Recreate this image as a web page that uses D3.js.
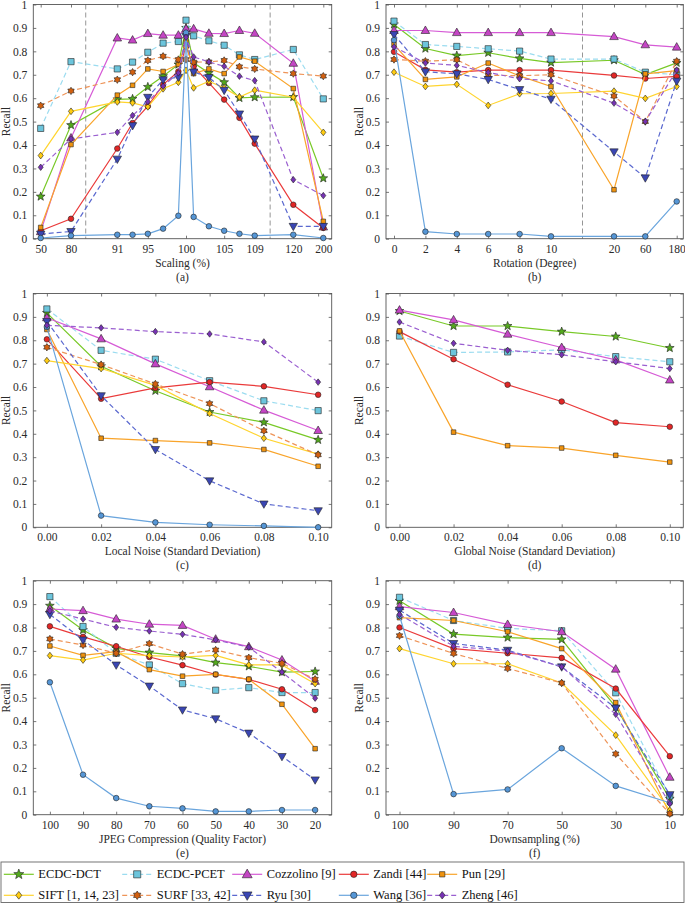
<!DOCTYPE html>
<html><head><meta charset="utf-8">
<script src="https://cdn.jsdelivr.net/npm/d3@7"></script>
<style>
body{margin:0;background:#fff} svg{display:block}
svg text{font-family:"Liberation Serif","DejaVu Serif",serif !important;}
</style>
</head><body>
<svg id="chart" width="685" height="903"></svg>
<script>
// ---------------- DATA ----------------
const seriesNames = ["ECDC-DCT","ECDC-PCET","Cozzolino [9]","Zandi [44]","Pun [29]","SIFT [1, 14, 23]","SURF [33, 42]","Ryu [30]","Wang [36]","Zheng [46]"];

// (a) Scaling
const scalingX = [50,80,91,93,95,97,99,100,101,103,105,107,109,120,200];
const scalingTicks = [50,80,91,95,100,105,109,120,200];
const scalingValues = [
  [0.18,0.485,0.595,0.597,0.648,0.694,0.744,0.90,0.751,0.708,0.668,0.601,0.604,0.605,0.258],
  [0.471,0.756,0.725,0.754,0.796,0.835,0.842,0.933,0.866,0.845,0.826,0.785,0.765,0.808,0.597],
  [0.03,0.43,0.857,0.848,0.876,0.869,0.869,0.896,0.896,0.877,0.876,0.889,0.877,0.749,0.05],
  [0.034,0.085,0.385,0.494,0.566,0.658,0.714,0.82,0.736,0.665,0.594,0.516,0.406,0.145,0.046],
  [0.048,0.402,0.613,0.655,0.725,0.714,0.744,0.84,0.705,0.725,0.705,0.776,0.758,0.641,0.074],
  [0.355,0.544,0.584,0.58,0.563,0.64,0.668,0.719,0.644,0.672,0.644,0.605,0.634,0.604,0.454],
  [0.568,0.631,0.679,0.711,0.761,0.779,0.765,0.765,0.754,0.755,0.761,0.734,0.725,0.705,0.694],
  [0.02,0.031,0.34,0.483,0.604,0.679,0.69,0.865,0.712,0.689,0.634,0.533,0.426,0.053,0.053],
  [0.003,0.013,0.017,0.017,0.021,0.043,0.098,0.88,0.093,0.053,0.034,0.021,0.013,0.017,0.003],
  [0.305,0.426,0.454,0.526,0.585,0.651,0.708,0.86,0.776,0.755,0.736,0.694,0.675,0.252,0.184]
];

// (b) Rotation
const rotationX = [0,2,4,6,8,10,20,60,180];
const rotationValues = [
  [0.915,0.812,0.782,0.794,0.77,0.752,0.762,0.701,0.751],
  [0.929,0.829,0.821,0.811,0.801,0.767,0.767,0.711,0.70],
  [0.889,0.889,0.88,0.88,0.88,0.88,0.863,0.828,0.818],
  [0.798,0.721,0.711,0.72,0.72,0.72,0.697,0.684,0.693],
  [0.829,0.68,0.691,0.75,0.695,0.65,0.209,0.704,0.718],
  [0.711,0.65,0.659,0.569,0.619,0.62,0.63,0.599,0.65],
  [0.765,0.758,0.764,0.698,0.696,0.70,0.609,0.50,0.758],
  [0.872,0.713,0.704,0.68,0.637,0.596,0.371,0.26,0.673],
  [0.848,0.03,0.02,0.02,0.02,0.01,0.01,0.01,0.159],
  [0.819,0.75,0.74,0.71,0.683,0.674,0.579,0.50,0.72]
];

// (c) Local noise
const noiseX = [0,0.02,0.04,0.06,0.08,0.10];
const localNoiseValues = [
  [0.917,0.689,0.584,0.493,0.449,0.374],
  [0.934,0.757,0.719,0.627,0.541,0.499],
  [0.896,0.806,0.699,0.601,0.501,0.414],
  [0.804,0.55,0.596,0.621,0.603,0.567],
  [0.846,0.381,0.371,0.361,0.333,0.261],
  [0.713,0.679,0.607,0.487,0.381,0.313],
  [0.77,0.696,0.613,0.529,0.413,0.31],
  [0.881,0.563,0.333,0.199,0.10,0.071],
  [0.857,0.05,0.021,0.011,0.006,0.0],
  [0.864,0.853,0.837,0.827,0.793,0.621]
];

// (d) Global noise (only six methods reported)
const globalNoiseValues = [
  [0.925,0.861,0.861,0.837,0.816,0.767],
  [0.818,0.748,0.75,0.759,0.73,0.708],
  [0.929,0.887,0.826,0.769,0.716,0.63],
  [0.837,0.719,0.61,0.538,0.448,0.43],
  [0.84,0.407,0.349,0.339,0.308,0.279],
  null, null, null, null,
  [0.878,0.787,0.757,0.738,0.708,0.679]
];

// (e) JPEG compression
const jpegX = [100,90,80,70,60,50,40,30,20];
const jpegValues = [
  [0.893,0.789,0.711,0.693,0.679,0.65,0.634,0.609,0.612],
  [0.932,0.804,0.69,0.64,0.56,0.532,0.543,0.522,0.522],
  [0.879,0.872,0.836,0.814,0.809,0.75,0.718,0.661,0.57],
  [0.805,0.76,0.72,0.674,0.639,0.599,0.578,0.536,0.447],
  [0.721,0.681,0.697,0.62,0.592,0.60,0.579,0.472,0.282],
  [0.68,0.661,0.69,0.68,0.674,0.681,0.64,0.64,0.56],
  [0.751,0.725,0.69,0.731,0.686,0.704,0.671,0.647,0.579],
  [0.856,0.747,0.64,0.55,0.448,0.41,0.349,0.249,0.149],
  [0.566,0.171,0.071,0.036,0.027,0.014,0.014,0.02,0.02],
  [0.871,0.836,0.801,0.785,0.771,0.747,0.716,0.609,0.498]
];

// (f) Downsampling
const downX = [100,90,70,50,30,10];
const downValues = [
  [0.914,0.772,0.757,0.749,0.46,0.068],
  [0.929,0.83,0.796,0.786,0.521,0.08],
  [0.889,0.864,0.813,0.782,0.622,0.16],
  [0.80,0.71,0.69,0.67,0.539,0.25],
  [0.842,0.83,0.782,0.71,0.479,0.004],
  [0.71,0.645,0.645,0.563,0.34,0.019],
  [0.765,0.689,0.625,0.563,0.26,0.004],
  [0.874,0.732,0.703,0.632,0.456,0.086],
  [0.849,0.088,0.108,0.284,0.123,0.051],
  [0.856,0.72,0.699,0.632,0.429,0.047]
];

const yTicks = [0,0.1,0.2,0.3,0.4,0.5,0.6,0.7,0.8,0.9,1];

// ---------------- STYLE ----------------
const FONT = "Liberation Serif";
const lineColors   = ["#78c927","#9bdcf0","#d65bd6","#ea3a3a","#f9a42a","#ffd42e","#ee9458","#5a68cf","#6aa5dd","#9a5fd0"];
const markerColors = ["#52a91c","#6cc5dc","#c445c4","#e22626","#f0930e","#ffcc10","#d2600f","#3a46b3","#5596d6","#7732b4"];
const dashed = [false,true,false,false,false,false,true,true,false,true];

// custom marker shapes (size = radius)
function polyType(pts){ return {draw(ctx, r){ pts(r).forEach((p,i)=> i? ctx.lineTo(p[0],p[1]) : ctx.moveTo(p[0],p[1])); ctx.closePath(); }}; }
function starPts(n, inner){ return r => d3.range(2*n).map(i=>{const a=-Math.PI/2+i*Math.PI/n; const rr = i%2? r*inner : r; return [rr*Math.cos(a), rr*Math.sin(a)];}); }
const symStar = polyType(starPts(5,0.42));
const symHex = polyType(starPts(6,0.6));
const symSquare = polyType(r=>[[-r,-r],[r,-r],[r,r],[-r,r]]);
const symTriUp = polyType(r=>[[0,-r*1.05],[r,r*0.7],[-r,r*0.7]]);
const symTriDown = polyType(r=>[[0,r*1.05],[r,-r*0.7],[-r,-r*0.7]]);
const symDiamond = polyType(r=>[[0,-r*1.3],[r,0],[0,r*1.3],[-r,0]]);
const symCircle = {draw(ctx,r){ ctx.moveTo(r,0); ctx.arc(0,0,r,0,2*Math.PI); }};
const markerTypes = [symStar,symSquare,symTriUp,symCircle,symSquare,symDiamond,symHex,symTriDown,symCircle,symDiamond];
const markerSizes = [4.6,3.1,4.3,2.8,2.3,2.6,3.7,4.2,2.8,2.5];

const svg = d3.select("#chart");

// ---------------- LAYOUT ----------------
const colL = {left:33.3, right:331.7}, colR = {left:386, right:683.3};
const rows = [{top:4.5,bottom:238.7},{top:293.5,bottom:527.3},{top:580.7,bottom:814.7}];

const panels = [
  {col:colL,row:rows[0],xVals:scalingX,values:scalingValues,ticks:scalingTicks,tickFmt:d=>d,label:"Scaling (%)",cap:"(a)",
   x:d3.scaleLinear().domain([50,80,91,109,120,200]).range([40.7,71,117.3,254.7,293.3,323.3]), guides:[83.5,113.4]},
  {col:colR,row:rows[0],xVals:rotationX,values:rotationValues,ticks:rotationX,tickFmt:d=>d,label:"Rotation (Degree)",cap:"(b)",
   x:d3.scaleLinear().domain([0,10,20,60,180]).range([394,551,614,645.3,676.7]), guides:[15]},
  {col:colL,row:rows[1],xVals:noiseX,values:localNoiseValues,ticks:noiseX,tickFmt:d3.format(".2f"),label:"Local Noise (Standard Deviation)",cap:"(c)",
   x:d3.scaleLinear().domain([-0.005,0.105]).range([colL.left,colL.right]), guides:[]},
  {col:colR,row:rows[1],xVals:noiseX,values:globalNoiseValues,ticks:noiseX,tickFmt:d3.format(".2f"),label:"Global Noise (Standard Deviation)",cap:"(d)",
   x:d3.scaleLinear().domain([-0.005,0.105]).range([colR.left,colR.right]), guides:[]},
  {col:colL,row:rows[2],xVals:jpegX,values:jpegValues,ticks:jpegX,tickFmt:d=>d,label:"JPEG Compression (Quality Factor)",cap:"(e)",
   x:d3.scaleLinear().domain([105,15]).range([colL.left,colL.right]), guides:[]},
  {col:colR,row:rows[2],xVals:downX,values:downValues,ticks:downX,tickFmt:d=>d,label:"Downsampling (%)",cap:"(f)",
   x:d3.scalePoint().domain(downX).range([colR.left,colR.right]).padding(0.25), guides:[]}
];

const AX = "#555", TXT = "#2a2a2a";

panels.forEach(p=>{
  const L=p.col.left, R=p.col.right, T=p.row.top, B=p.row.bottom;
  const y = d3.scaleLinear().domain([0,1]).range([B,T]);
  const g = svg.append("g");

  p.guides.forEach(v=>{
    g.append("line").attr("x1",p.x(v)).attr("x2",p.x(v)).attr("y1",T).attr("y2",B)
      .attr("stroke","#8a8a8a").attr("stroke-width",0.9).attr("stroke-dasharray","5,3");
  });

  const fmtY = d=> d===0?"0": d===1?"1": d.toFixed(1);
  const yl = g.append("g").attr("transform",`translate(${L},0)`).call(d3.axisLeft(y).tickValues(yTicks).tickFormat(fmtY).tickSizeInner(-3).tickSizeOuter(0).tickPadding(6));
  const yr = g.append("g").attr("transform",`translate(${R},0)`).call(d3.axisRight(y).tickValues(yTicks).tickFormat("").tickSizeInner(-3).tickSizeOuter(0));
  const xb = g.append("g").attr("transform",`translate(0,${B})`).call(d3.axisBottom(p.x).tickValues(p.ticks).tickFormat(p.tickFmt).tickSizeInner(-3).tickSizeOuter(0).tickPadding(6));
  const xt = g.append("g").attr("transform",`translate(0,${T})`).call(d3.axisTop(p.x).tickValues(p.ticks).tickFormat("").tickSizeInner(-3).tickSizeOuter(0));
  [yl,yr,xb,xt].forEach(a=>{
    a.attr("font-family",FONT).attr("font-size",11.5);
    a.select(".domain").remove();
    a.selectAll(".tick line").attr("stroke",AX).attr("stroke-width",0.8);
    a.selectAll("text").attr("font-family",FONT).attr("font-size",11.5).attr("fill",TXT);
  });
  g.append("rect").attr("x",L).attr("y",T).attr("width",R-L).attr("height",B-T)
    .attr("fill","none").attr("stroke",AX).attr("stroke-width",0.9);

  g.append("text").attr("transform",`translate(${L-27},${(T+B)/2}) rotate(-90)`).attr("text-anchor","middle")
    .attr("dominant-baseline","central").attr("font-family",FONT).attr("font-size",11.5).attr("fill",TXT).text("Recall");
  g.append("text").attr("x",(L+R)/2).attr("y",B+28).attr("text-anchor","middle")
    .attr("font-family",FONT).attr("font-size",11.5).attr("fill",TXT).text(p.label);
  g.append("text").attr("x",(L+R)/2).attr("y",B+42).attr("text-anchor","middle")
    .attr("font-family",FONT).attr("font-size",11.5).attr("fill",TXT).text(p.cap);

  const line = d3.line().x((d,i)=>p.x(p.xVals[i])).y(d=>y(d));
  p.values.forEach((vals,s)=>{
    if(!vals) return;
    const sg = g.append("g");
    sg.append("path").attr("d",line(vals)).attr("fill","none").attr("stroke",lineColors[s])
      .attr("stroke-width",1.2).attr("stroke-dasharray",dashed[s]?"5,3":null);
    sg.selectAll("path.m").data(vals).join("path").attr("class","m")
      .attr("transform",(d,i)=>`translate(${p.x(p.xVals[i])},${y(d)})`)
      .attr("d",d3.symbol().type(markerTypes[s]).size(markerSizes[s]))
      .attr("fill",markerColors[s]).attr("stroke","#222").attr("stroke-width",0.6);
  });
});

// ---------------- LEGEND ----------------
const lg = svg.append("g");
lg.append("rect").attr("x",1).attr("y",862).attr("width",683).attr("height",40.5)
  .attr("fill","#fff").attr("stroke","#666").attr("stroke-width",0.9);
const legTextX = [38.3,156.7,266.7,373.3,461.7];
const legRowY = [874.3,895.3];
seriesNames.forEach((name,s)=>{
  const col = s%5, row = Math.floor(s/5);
  const tx = legTextX[col], cy = legRowY[row], mx = tx-19.5;
  lg.append("line").attr("x1",mx-15).attr("x2",mx+15).attr("y1",cy).attr("y2",cy)
    .attr("stroke",lineColors[s]).attr("stroke-width",1.2).attr("stroke-dasharray",dashed[s]?"5,3":null);
  lg.append("path").attr("transform",`translate(${mx},${cy})`)
    .attr("d",d3.symbol().type(markerTypes[s]).size(markerSizes[s]*1.15))
    .attr("fill",markerColors[s]).attr("stroke","#222").attr("stroke-width",0.6);
  lg.append("text").attr("x",tx).attr("y",cy).attr("dominant-baseline","central")
    .attr("font-family",FONT).attr("font-size",12.5).attr("fill","#111").text(name);
});
</script>
</body></html>
